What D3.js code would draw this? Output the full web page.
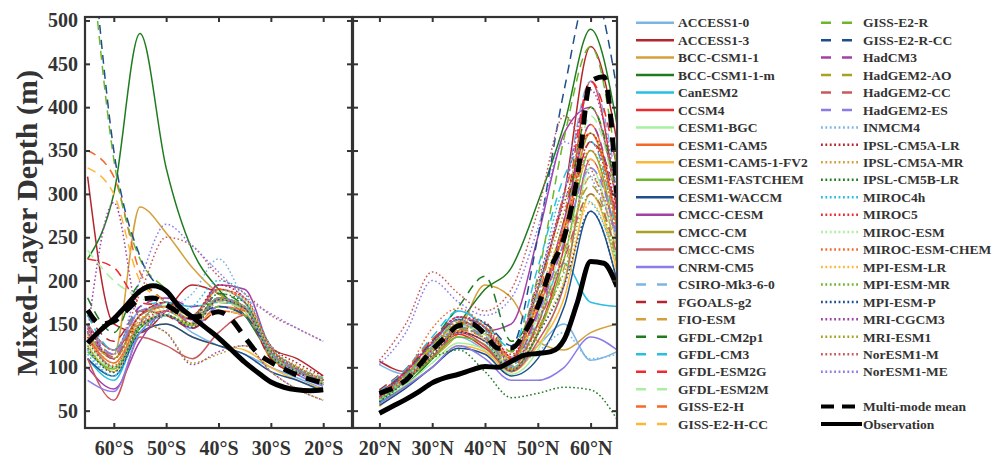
<!DOCTYPE html>
<html>
<head>
<meta charset="utf-8">
<script src="https://cdn.jsdelivr.net/npm/d3@7"></script>
<style>
  body { margin: 0; background: #fff; }
  text { font-family: "Liberation Serif", "Times New Roman", serif; font-weight: bold; fill: #333; }
</style>
</head>
<body>
<svg id="chart" width="998" height="458"></svg>
<script>
// latitude grids
var latS = [-65, -60, -55, -50, -45, -40, -35, -30, -25, -20];
var latN = [20, 25, 30, 35, 40, 45, 50, 55, 60, 65];
var latS2 = [-65, -62.5, -60, -57.5, -55, -52.5, -50, -47.5, -45, -42.5, -40, -37.5, -35, -32.5, -30, -27.5, -25, -22.5, -20];
var latN2 = [20, 22.5, 25, 27.5, 30, 32.5, 35, 37.5, 40, 42.5, 45, 47.5, 50, 52.5, 55, 57.5, 60, 62.5, 65];

var yTicks = [50, 100, 150, 200, 250, 300, 350, 400, 450, 500];
var xTicksS = [-60, -50, -40, -30, -20];
var xTicksN = [20, 30, 40, 50, 60];

var models = ['ACCESS1-0', 'ACCESS1-3', 'BCC-CSM1-1', 'BCC-CSM1-1-m', 'CanESM2', 'CCSM4', 'CESM1-BGC',
  'CESM1-CAM5', 'CESM1-CAM5-1-FV2', 'CESM1-FASTCHEM', 'CESM1-WACCM', 'CMCC-CESM', 'CMCC-CM', 'CMCC-CMS',
  'CNRM-CM5', 'CSIRO-Mk3-6-0', 'FGOALS-g2', 'FIO-ESM', 'GFDL-CM2p1', 'GFDL-CM3', 'GFDL-ESM2G', 'GFDL-ESM2M',
  'GISS-E2-H', 'GISS-E2-H-CC', 'GISS-E2-R', 'GISS-E2-R-CC', 'HadCM3', 'HadGEM2-AO', 'HadGEM2-CC', 'HadGEM2-ES',
  'INMCM4', 'IPSL-CM5A-LR', 'IPSL-CM5A-MR', 'IPSL-CM5B-LR', 'MIROC4h', 'MIROC5', 'MIROC-ESM', 'MIROC-ESM-CHEM',
  'MPI-ESM-LR', 'MPI-ESM-MR', 'MPI-ESM-P', 'MRI-CGCM3', 'MRI-ESM1', 'NorESM1-M', 'NorESM1-ME'];

// mixed-layer depth (m), southern hemisphere, on latS
var southMLD = [
  [140, 100, 150, 160, 140, 125, 115, 100, 88, 75],
  [320, 150, 140, 165, 195, 185, 160, 122, 110, 90],
  [130, 115, 285, 255, 215, 185, 165, 118, 98, 80],
  [225, 300, 485, 330, 235, 190, 160, 115, 95, 80],
  [110, 85, 150, 175, 170, 175, 170, 115, 95, 82],
  [150, 120, 160, 175, 160, 190, 175, 120, 100, 85],
  [120, 100, 145, 165, 150, 180, 170, 115, 95, 80],
  [135, 105, 150, 160, 145, 170, 165, 110, 95, 85],
  [125, 95, 140, 150, 135, 125, 120, 100, 85, 75],
  [118, 98, 145, 160, 148, 178, 168, 112, 95, 80],
  [110, 90, 140, 150, 135, 125, 115, 95, 85, 72],
  [100, 75, 130, 165, 155, 195, 190, 120, 95, 85],
  [140, 110, 160, 170, 150, 180, 170, 118, 98, 82],
  [110, 62, 135, 125, 110, 140, 160, 115, 95, 80],
  [85, 72, 140, 160, 145, 170, 160, 115, 92, 78],
  [150, 120, 165, 170, 150, 180, 170, 115, 95, 85],
  [160, 130, 165, 160, 145, 165, 160, 110, 92, 82],
  [145, 110, 155, 165, 150, 175, 165, 115, 98, 85],
  [180, 140, 195, 175, 160, 185, 170, 120, 100, 85],
  [160, 120, 170, 175, 160, 190, 175, 120, 100, 88],
  [225, 215, 175, 170, 150, 175, 165, 115, 95, 82],
  [235, 200, 180, 170, 150, 175, 165, 115, 95, 82],
  [350, 320, 210, 175, 155, 165, 160, 118, 98, 85],
  [330, 300, 200, 175, 150, 165, 160, 118, 98, 85],
  [620, 340, 225, 190, 160, 170, 160, 118, 98, 85],
  [650, 350, 228, 185, 160, 170, 160, 118, 98, 85],
  [140, 110, 170, 180, 170, 180, 170, 118, 98, 85],
  [150, 115, 165, 170, 155, 180, 170, 118, 98, 85],
  [145, 112, 160, 170, 150, 178, 168, 116, 96, 84],
  [148, 115, 165, 172, 152, 180, 170, 118, 98, 85],
  [120, 90, 150, 165, 185, 225, 175, 115, 95, 80],
  [150, 110, 160, 175, 160, 195, 180, 125, 105, 90],
  [140, 105, 155, 170, 158, 190, 178, 122, 102, 88],
  [130, 100, 145, 160, 150, 185, 175, 120, 100, 85],
  [115, 90, 140, 160, 170, 200, 185, 125, 100, 85],
  [135, 100, 150, 165, 155, 190, 180, 122, 100, 86],
  [128, 100, 150, 168, 158, 188, 178, 120, 100, 85],
  [132, 102, 152, 170, 160, 190, 180, 122, 100, 86],
  [125, 95, 150, 160, 148, 178, 170, 115, 95, 80],
  [125, 95, 148, 160, 148, 180, 170, 116, 96, 82],
  [122, 94, 148, 160, 146, 178, 168, 114, 95, 80],
  [140, 290, 155, 140, 103, 118, 125, 95, 75, 62],
  [138, 110, 150, 140, 105, 115, 125, 95, 75, 62],
  [150, 120, 185, 250, 240, 205, 185, 160, 145, 130],
  [140, 115, 200, 265, 240, 210, 180, 162, 145, 130]
];

// mixed-layer depth (m), northern hemisphere, on latN
var northMLD = [
  [103, 92, 112, 135, 120, 100, 125, 150, 108, 118],
  [107, 95, 118, 142, 130, 110, 190, 300, 470, 360],
  [65, 85, 110, 140, 195, 180, 130, 120, 140, 150],
  [60, 80, 110, 150, 190, 215, 290, 380, 490, 380],
  [58, 88, 125, 165, 145, 105, 150, 220, 175, 170],
  [65, 88, 112, 138, 122, 98, 140, 240, 430, 280],
  [62, 80, 105, 128, 120, 92, 120, 200, 330, 220],
  [66, 92, 122, 150, 138, 108, 165, 260, 380, 260],
  [55, 78, 100, 125, 118, 95, 125, 180, 300, 210],
  [62, 84, 110, 135, 126, 96, 138, 225, 350, 240],
  [56, 76, 100, 122, 115, 90, 110, 170, 280, 200],
  [70, 95, 128, 155, 142, 150, 250, 370, 400, 290],
  [70, 92, 120, 148, 138, 108, 175, 255, 370, 260],
  [64, 86, 112, 140, 125, 95, 130, 195, 340, 240],
  [58, 78, 100, 125, 110, 85, 85, 100, 135, 120],
  [70, 95, 128, 158, 142, 112, 185, 300, 430, 310],
  [74, 98, 132, 152, 140, 105, 165, 245, 360, 300],
  [64, 86, 112, 142, 150, 118, 145, 215, 320, 230],
  [70, 92, 130, 170, 205, 130, 175, 270, 400, 300],
  [72, 98, 135, 165, 150, 122, 215, 320, 360, 250],
  [68, 90, 120, 145, 140, 110, 150, 270, 430, 330],
  [66, 90, 118, 148, 138, 108, 160, 250, 390, 290],
  [70, 96, 132, 152, 146, 112, 180, 300, 370, 260],
  [67, 90, 124, 146, 138, 106, 170, 265, 340, 240],
  [68, 92, 126, 150, 145, 118, 205, 365, 470, 330],
  [70, 95, 130, 155, 150, 125, 250, 420, 540, 420],
  [64, 88, 118, 146, 133, 104, 165, 270, 380, 270],
  [66, 90, 118, 145, 135, 102, 155, 235, 310, 220],
  [66, 88, 116, 143, 133, 100, 150, 225, 300, 230],
  [67, 90, 118, 146, 136, 102, 160, 245, 330, 250],
  [62, 88, 120, 150, 140, 100, 118, 140, 110, 115],
  [65, 94, 128, 158, 152, 112, 195, 290, 370, 280],
  [64, 90, 124, 154, 148, 108, 180, 265, 350, 260],
  [60, 85, 110, 120, 95, 65, 70, 77, 74, 40],
  [62, 90, 122, 155, 130, 100, 190, 300, 290, 220],
  [70, 96, 130, 158, 146, 115, 175, 260, 360, 270],
  [62, 88, 118, 148, 138, 105, 155, 230, 320, 240],
  [66, 94, 145, 168, 146, 110, 170, 255, 350, 260],
  [60, 85, 115, 142, 132, 98, 140, 200, 290, 210],
  [61, 86, 116, 144, 134, 98, 145, 210, 300, 220],
  [60, 84, 114, 140, 130, 96, 138, 195, 280, 200],
  [66, 94, 128, 158, 146, 106, 200, 300, 420, 300],
  [64, 90, 122, 152, 142, 102, 190, 280, 400, 290],
  [108, 150, 210, 185, 165, 190, 280, 390, 330, 260],
  [103, 140, 200, 175, 160, 180, 260, 360, 320, 250]
];

// multi-model mean and observation on the finer grids
var meanS = [166, 150, 153, 166, 178, 180, 172, 163, 158, 160, 164, 155, 135, 116, 106, 98, 91, 86, 82];
var obsS = [128, 143, 156, 172, 188, 194, 188, 170, 158, 146, 134, 120, 106, 94, 83, 77, 74, 73, 74];
var meanN = [70, 76, 85, 102, 120, 135, 148, 150, 138, 122, 122, 140, 170, 215, 250, 320, 430, 435, 296];
var obsN = [47, 55, 63, 72, 82, 88, 92, 97, 101, 100, 107, 114, 116, 118, 132, 175, 222, 220, 193];

var palette = ['#7cb5e4', '#b5252d', '#d4a03a', '#1e7b1e', '#28bfe3', '#ee2a2e', '#a8f0a0', '#f4692a',
  '#fdb736', '#6cb62a', '#1d4f8e', '#a43fa8', '#a7a124', '#c85a5e', '#8c7cea'];

function styleOf(i) {
    return i < 15 ? 'solid' : (i < 30 ? 'dashed' : 'dotted');
}
var plotDash = { solid: null, dashed: '9,6', dotted: '1.6,2.4' };
var legendDash = { solid: null, dashed: '10,11', dotted: '1.8,2.6' };

var svg = d3.select('#chart');
var plotTop = 17, plotBottom = 428;
var y = d3.scaleLinear().domain([30, 504]).range([plotBottom, plotTop]);
var xS = d3.scaleLinear().domain([-65.5, -14.5]).range([85, 352]);
var xN = d3.scaleLinear().domain([15, 65]).range([353, 617]);

function drawPanel(id, x, lats, data, lats2, mean, obs, xTicks, fmt, showY) {
    var x0 = x.range()[0], x1 = x.range()[1];
    var g = svg.append('g');
    svg.append('clipPath').attr('id', id)
        .append('rect').attr('x', x0).attr('y', plotTop).attr('width', x1 - x0).attr('height', plotBottom - plotTop);

    var lines = g.append('g').attr('clip-path', 'url(#' + id + ')');
    var line = d3.line()
        .x(function (d, i) { return x(lats[i]); })
        .y(function (d) { return y(d); })
        .curve(d3.curveMonotoneX);
    data.forEach(function (row, i) {
        lines.append('path')
            .attr('d', line(row))
            .attr('fill', 'none')
            .attr('stroke', palette[i % 15])
            .attr('stroke-width', 1.5)
            .attr('stroke-dasharray', plotDash[styleOf(i)]);
    });
    var line2 = d3.line()
        .x(function (d, i) { return x(lats2[i]); })
        .y(function (d) { return y(d); })
        .curve(d3.curveMonotoneX);
    lines.append('path').attr('d', line2(mean))
        .attr('fill', 'none').attr('stroke', '#000').attr('stroke-width', 5)
        .attr('stroke-dasharray', '14,10');
    lines.append('path').attr('d', line2(obs))
        .attr('fill', 'none').attr('stroke', '#000').attr('stroke-width', 5);

    // axes, ticks pointing inward
    g.append('g').attr('transform', 'translate(' + x0 + ',0)')
        .call(d3.axisLeft(y).tickValues(yTicks).tickSizeInner(-5).tickSizeOuter(0).tickPadding(7)
            .tickFormat(showY ? d3.format('d') : ''));
    g.append('g').attr('transform', 'translate(' + x1 + ',0)')
        .call(d3.axisRight(y).tickValues(yTicks).tickSizeInner(-5).tickSizeOuter(0).tickFormat(''));
    g.append('g').attr('transform', 'translate(0,' + plotBottom + ')')
        .call(d3.axisBottom(x).tickValues(xTicks).tickSizeInner(-5).tickSizeOuter(0).tickPadding(13).tickFormat(fmt));
    g.append('g').attr('transform', 'translate(0,' + plotTop + ')')
        .call(d3.axisTop(x).tickValues(xTicks).tickSizeInner(-5).tickSizeOuter(0).tickFormat(''));
    g.selectAll('.domain').remove();
    g.selectAll('.tick line').attr('stroke', '#333').attr('stroke-width', 2);
    g.selectAll('.tick text').style('font-size', '20px').attr('fill', '#333');

    g.append('rect').attr('x', x0).attr('y', plotTop).attr('width', x1 - x0).attr('height', plotBottom - plotTop)
        .attr('fill', 'none').attr('stroke', '#333').attr('stroke-width', 2.2);
}

drawPanel('clipS', xS, latS, southMLD, latS2, meanS, obsS, xTicksS,
    function (d) { return Math.abs(d) + '°S'; }, true);
drawPanel('clipN', xN, latN, northMLD, latN2, meanN, obsN, xTicksN,
    function (d) { return d + '°N'; }, false);

svg.append('text')
    .attr('transform', 'translate(37,223) rotate(-90)')
    .attr('text-anchor', 'middle')
    .style('font-size', '30px')
    .text('Mixed-Layer Depth (m)');

// legend
var legend = svg.append('g');
var rowH = 17.45, row0 = 22.7;
var items = models.map(function (m, i) {
    return { name: m, color: palette[i % 15], dash: legendDash[styleOf(i)], w: 2.5 };
});
items.forEach(function (it, i) {
    var col = i < 24 ? 0 : 1;
    var r = col === 0 ? i : i - 24;
    var lx = col === 0 ? 636 : 821;
    var ly = row0 + r * rowH;
    legend.append('line').attr('x1', lx).attr('x2', lx + 38).attr('y1', ly).attr('y2', ly)
        .attr('stroke', it.color).attr('stroke-width', it.w).attr('stroke-dasharray', it.dash);
    legend.append('text').attr('x', lx + 42).attr('y', ly).attr('dy', '0.35em')
        .style('font-size', '13.5px').text(it.name);
});
[['Multi-mode mean', '13,8'], ['Observation', null]].forEach(function (it, k) {
    var ly = row0 + (22 + k) * rowH;
    legend.append('line').attr('x1', 821).attr('x2', 862).attr('y1', ly).attr('y2', ly)
        .attr('stroke', '#000').attr('stroke-width', 4).attr('stroke-dasharray', it[1]);
    legend.append('text').attr('x', 863).attr('y', ly).attr('dy', '0.35em')
        .style('font-size', '13.5px').text(it[0]);
});
</script>
</body>
</html>
